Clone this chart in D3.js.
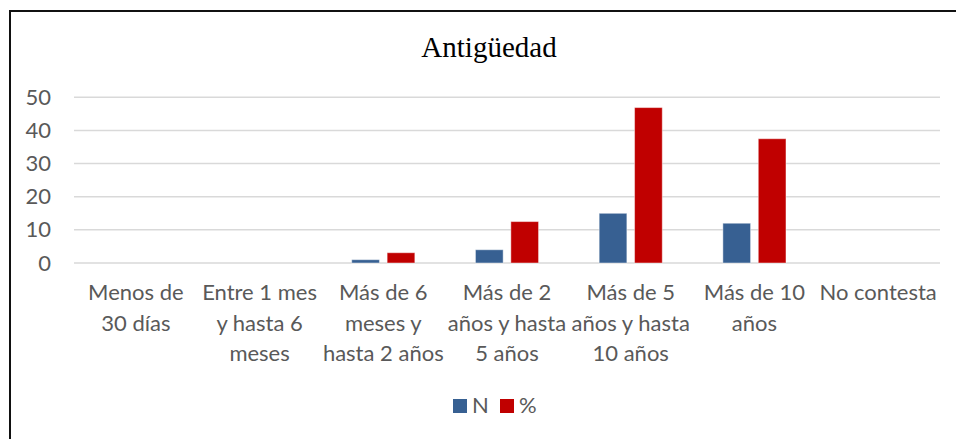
<!DOCTYPE html>
<html>
<head>
<meta charset="utf-8">
<script src="https://cdn.jsdelivr.net/npm/d3@7"></script>
<style>
  body { margin: 0; background: #fff; }
  svg { display: block; }
</style>
</head>
<body>
<script>
// data
var categories = [
  ["Menos de", "30 días"],
  ["Entre 1 mes", "y hasta 6", "meses"],
  ["Más de 6", "meses y", "hasta 2 años"],
  ["Más de 2", "años y hasta", "5 años"],
  ["Más de 5", "años y hasta", "10 años"],
  ["Más de 10", "años"],
  ["No contesta"]
];
var seriesNames = ["N", "%"];
var seriesN = [0, 0, 1, 4, 15, 12, 0];
var seriesPct = [0, 0, 3.1, 12.5, 46.9, 37.5, 0];
var yTicks = [0, 10, 20, 30, 40, 50];
var colors = ["#376092", "#c00000"];

window.onload = function(){
  var w = 956, h = 439;
  var left = 74, right = 940, top = 97.3, bottom = 263;

  var svg = d3.select("body").append("svg")
    .attr("width", w)
    .attr("height", h)
    .attr("class", "container");

  // chart frame (only top and left edges are inside the picture)
  svg.append("rect")
    .attr("class", "frame")
    .attr("x", 10).attr("y", 11)
    .attr("width", 960).attr("height", 450)
    .style("fill", "none")
    .style("stroke", "#111")
    .style("stroke-width", 2);

  svg.append("text")
    .attr("class", "title")
    .attr("x", 489).attr("y", 57)
    .attr("text-anchor", "middle")
    .style("font-family", "'Liberation Serif', 'Times New Roman', serif")
    .style("font-size", "29px")
    .style("fill", "#000")
    .text("Antigüedad");

  var x0 = d3.scaleBand()
    .domain(d3.range(categories.length))
    .range([left, right])
    .padding(0);

  var x1 = d3.scaleBand()
    .domain(seriesNames)
    .range([0, x0.bandwidth()])
    .paddingInner(0.2175)
    .paddingOuter(0.856);

  var y = d3.scaleLinear()
    .domain([0, 50])
    .range([bottom, top]);

  var font = "Lato, 'Open Sans', sans-serif";

  // gridlines
  svg.append("g").attr("class", "grid")
    .selectAll("line")
    .data(yTicks)
    .enter().append("line")
    .attr("x1", left).attr("x2", right)
    .attr("y1", function(d){ return y(d); })
    .attr("y2", function(d){ return y(d); })
    .style("stroke", "#d9d9d9")
    .style("stroke-width", 1.5);

  // y axis labels
  var yAxis = d3.axisLeft(y).tickValues(yTicks).tickSize(0).tickPadding(23);
  var yg = svg.append("g").attr("class", "y-axis")
    .attr("transform", "translate(" + left + ",0)")
    .call(yAxis);
  yg.select(".domain").remove();
  yg.selectAll("text")
    .style("font-family", font)
    .style("font-size", "22px")
    .style("fill", "#595959");

  // bars
  var rows = categories.map(function(c, i){
    return [{s: "N", v: seriesN[i], c: colors[0]}, {s: "%", v: seriesPct[i], c: colors[1]}];
  });

  var groups = svg.append("g").attr("class", "bars")
    .selectAll("g")
    .data(rows)
    .enter().append("g")
    .attr("transform", function(d, i){ return "translate(" + x0(i) + ",0)"; });

  groups.selectAll("rect")
    .data(function(d){ return d.filter(function(e){ return e.v > 0; }); })
    .enter().append("rect")
    .attr("x", function(d){ return x1(d.s); })
    .attr("width", x1.bandwidth())
    .attr("y", function(d){ return y(d.v); })
    .attr("height", function(d){ return y(0) - y(d.v); })
    .style("fill", function(d){ return d.c; })
    .style("stroke", "#fff")
    .style("stroke-opacity", 0.45)
    .style("stroke-width", 1);

  // category labels
  var labels = svg.append("g").attr("class", "x-labels")
    .selectAll("text")
    .data(categories)
    .enter().append("text")
    .attr("x", function(d, i){ return x0(i) + x0.bandwidth() / 2; })
    .attr("y", 300)
    .attr("text-anchor", "middle")
    .style("font-family", font)
    .style("font-size", "22px")
    .style("fill", "#595959");

  labels.selectAll("tspan")
    .data(function(d){ return d; })
    .enter().append("tspan")
    .attr("x", function(){ return d3.select(this.parentNode).attr("x"); })
    .attr("dy", function(d, i){ return i === 0 ? 0 : 30.5; })
    .text(function(d){ return d; });

  // legend
  var legend = svg.append("g").attr("class", "legend")
    .attr("transform", "translate(453,399)");
  var items = legend.selectAll("g")
    .data(seriesNames)
    .enter().append("g")
    .attr("transform", function(d, i){ return "translate(" + (i * 47) + ",0)"; });
  items.append("rect")
    .attr("width", 14).attr("height", 14)
    .style("fill", function(d, i){ return colors[i]; });
  items.append("text")
    .attr("x", 19).attr("y", 14)
    .style("font-family", font)
    .style("font-size", "22px")
    .style("fill", "#595959")
    .text(function(d){ return d; });
};
</script>
</body>
</html>
